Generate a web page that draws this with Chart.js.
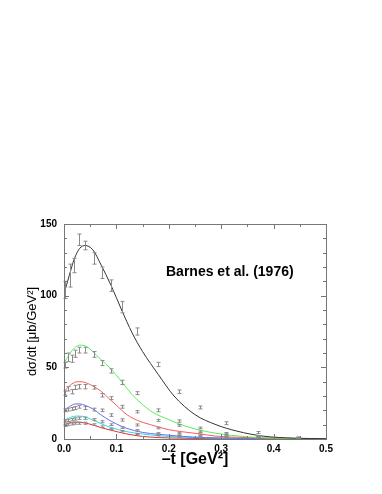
<!DOCTYPE html>
<html>
<head>
<meta charset="utf-8">
<script src="https://cdn.jsdelivr.net/npm/chart.js@4/dist/chart.umd.min.js"></script>
<style>
html, body { margin: 0; padding: 0; background: #fff; }
canvas { display: block; }
</style>
</head>
<body>
<canvas id="chart" width="382" height="494"></canvas>
<script>
// tick labels
const xTicks = [0, 0.1, 0.2, 0.3, 0.4, 0.5];
const yTicks = [0, 50, 100, 150];

// model curves
const curveBlackT = [0, 0.01, 0.02, 0.03, 0.04, 0.055, 0.07, 0.09, 0.11, 0.13, 0.15, 0.18, 0.21, 0.25, 0.29, 0.33, 0.38, 0.44, 0.5];
const curveBlackY = [101, 114, 126, 133, 135, 132, 122, 107, 90, 74, 61, 45, 30, 17, 10, 5.5, 2, 0.6, 0.2];
const curveGreenT = [0, 0.01, 0.02, 0.03, 0.04, 0.055, 0.07, 0.088, 0.11, 0.13, 0.15, 0.17, 0.2, 0.22, 0.25, 0.29, 0.35, 0.42, 0.5];
const curveGreenY = [53, 59, 63.5, 65.5, 65, 61, 55.5, 49.5, 40, 31, 24, 18.5, 13.5, 10.5, 7, 4, 1.5, 0.5, 0.1];
const curveRedT = [0, 0.01, 0.02, 0.03, 0.04, 0.055, 0.07, 0.088, 0.1, 0.12, 0.14, 0.165, 0.2, 0.227, 0.26, 0.29, 0.35, 0.42, 0.5];
const curveRedY = [33, 37, 39.5, 40, 39.5, 37, 33.5, 27.5, 23.5, 17, 13, 10, 6.5, 5, 3.5, 2, 1, 0.4, 0.1];
const curveBlueT = [0, 0.01, 0.021, 0.03, 0.04, 0.055, 0.07, 0.088, 0.1, 0.12, 0.15, 0.18, 0.22, 0.27, 0.33, 0.4, 0.5];
const curveBlueY = [19.7, 22.5, 24.4, 24.5, 23.5, 21, 17, 12.8, 10.5, 7.4, 4.6, 3.3, 2, 1, 0.5, 0.2, 0.05];
const curveCyanT = [0, 0.012, 0.024, 0.035, 0.055, 0.07, 0.088, 0.12, 0.15, 0.18, 0.22, 0.27, 0.33, 0.4, 0.5];
const curveCyanY = [12.8, 15, 16, 15.8, 13.3, 10.8, 8.2, 5.1, 3.5, 2.3, 1.4, 0.8, 0.4, 0.2, 0.05];
const curveDarkRedT = [0, 0.01, 0.02, 0.03, 0.04, 0.055, 0.07, 0.088, 0.12, 0.15, 0.18, 0.22, 0.27, 0.35, 0.5];
const curveDarkRedY = [10, 11.3, 11.8, 11.7, 11.2, 9.8, 8, 6.3, 3.5, 1.8, 1, 0.6, 0.3, 0.1, 0.02];

// measured points with errors
const dataBlackT = [0.002, 0.011, 0.019, 0.029, 0.04, 0.057, 0.072, 0.09, 0.11, 0.139, 0.18, 0.22, 0.26, 0.31, 0.37, 0.447];
const dataBlackY = [104, 114, 121, 139, 135, 126, 116, 107, 92, 75, 52, 33, 22, 11, 4.5, 1];
const dataBlackE = [6, 8, 5, 4, 3, 4, 4, 4, 4, 2.5, 1.5, 1.2, 1, 1, 0.7, 0.5];

const dataT = [0.002, 0.008, 0.015, 0.021, 0.029, 0.04, 0.057, 0.072, 0.09, 0.11, 0.139, 0.18, 0.22, 0.26, 0.31, 0.37, 0.447];
const dataGreenY = [51.5, 57, 56, 59.5, 62, 62, 59, 53, 47.5, 39.5, 32, 20, 12.5, 7.7, 4, 2, 0.7];
const dataGreenE = [2, 3, 2.5, 2.5, 2, 2, 2, 1.8, 1.5, 1.5, 1, 1, 0.8, 0.6, 0.5, 0.4, 0.3];
const dataRedY = [32, 35, 33, 36, 36.5, 36.5, 36, 30.5, 28.5, 22.5, 19, 13, 9.5, 5, 3, 1.5, 0.5];
const dataRedE = [1.5, 1.5, 1.5, 1.5, 1.5, 1.5, 1.2, 1.2, 1, 1, 0.8, 0.7, 0.6, 0.5, 0.4, 0.3, 0.3];
const dataBlueY = [20, 20.5, 21, 21.6, 22.5, 21.6, 20.5, 20, 16.7, 13.3, 9.8, 7.7, 4.2, 3, 1.8, 1, 0.5];
const dataBlueE = [1, 1, 1, 1, 1, 1, 1, 0.9, 0.9, 0.8, 0.7, 0.6, 0.5, 0.4, 0.3, 0.3, 0.2];
const dataCyanY = [12.5, 13, 13.5, 14, 14.5, 14.5, 13.5, 12, 10, 8, 6, 4, 2.6, 1.8, 1, 0.6, 0.3];
const dataCyanE = [0.8, 0.8, 0.8, 0.8, 0.8, 0.8, 0.7, 0.7, 0.6, 0.6, 0.5, 0.4, 0.3, 0.3, 0.2, 0.2, 0.2];
const dataDarkRedY = [9.5, 10, 10.5, 11, 11, 11, 10, 8.5, 7, 5.5, 3.5, 2.5, 1.5, 1, 0.6, 0.3, 0.2];
const dataDarkRedE = [0.7, 0.7, 0.7, 0.7, 0.7, 0.7, 0.6, 0.6, 0.5, 0.5, 0.4, 0.3, 0.3, 0.2, 0.2, 0.2, 0.1];

const FONT = '"Liberation Sans", Arial, Helvetica, sans-serif';

function pts(xs, ys) {
	return xs.map(function(x, i) { return { x: x, y: ys[i] }; });
}

function curve(xs, ys, color) {
	return {
		type: 'line',
		data: pts(xs, ys),
		borderColor: color,
		borderWidth: 1,
		pointRadius: 0,
		fill: false,
		cubicInterpolationMode: 'monotone'
	};
}

function measured(xs, ys, errs) {
	return {
		type: 'scatter',
		data: pts(xs, ys),
		errors: errs,
		pointRadius: 0,
		showLine: false
	};
}

// draws error bars with small caps
const errorBars = {
	id: 'errorBars',
	afterDatasetsDraw: function(chart) {
		const ctx = chart.ctx;
		const xs = chart.scales.x, ys = chart.scales.y;
		ctx.save();
		ctx.strokeStyle = '#8a8a8a';
		ctx.lineWidth = 1;
		chart.data.datasets.forEach(function(ds) {
			if (!ds.errors) return;
			ds.data.forEach(function(p, i) {
				const px = Math.round(xs.getPixelForValue(p.x)) + 0.5;
				const top = ys.getPixelForValue(p.y + ds.errors[i]);
				const bot = ys.getPixelForValue(Math.max(p.y - ds.errors[i], 0));
				ctx.beginPath();
				ctx.moveTo(px, top);
				ctx.lineTo(px, bot);
				ctx.moveTo(px - 2, top);
				ctx.lineTo(px + 2, top);
				ctx.moveTo(px - 2, bot);
				ctx.lineTo(px + 2, bot);
				ctx.stroke();
			});
		});
		ctx.restore();
	}
};

// frame, inward ticks and the label
const frame = {
	id: 'frame',
	afterDraw: function(chart) {
		const ctx = chart.ctx;
		const a = chart.chartArea;
		const xs = chart.scales.x, ys = chart.scales.y;
		ctx.save();
		ctx.strokeStyle = '#777';
		ctx.lineWidth = 1;
		ctx.strokeRect(a.left + 0.5, a.top + 0.5, a.right - a.left, a.bottom - a.top);
		ctx.beginPath();
		for (let v = 0; v <= 150.001; v += 10) {
			const y = Math.round(ys.getPixelForValue(v)) + 0.5;
			const len = (Math.round(v) % 50 === 0) ? 5 : 3;
			ctx.moveTo(a.left, y); ctx.lineTo(a.left + len, y);
			ctx.moveTo(a.right, y); ctx.lineTo(a.right - len, y);
		}
		for (let k = 0; k <= 10; k++) {
			const x = Math.round(xs.getPixelForValue(k * 0.05)) + 0.5;
			const len = (k % 2 === 0) ? 5 : 3;
			ctx.moveTo(x, a.bottom); ctx.lineTo(x, a.bottom - len);
			ctx.moveTo(x, a.top); ctx.lineTo(x, a.top + len);
		}
		ctx.stroke();
		ctx.fillStyle = '#000';
		ctx.font = 'bold 14px ' + FONT;
		ctx.textBaseline = 'middle';
		ctx.fillText('Barnes et al. (1976)', 166, 272);
		ctx.restore();
	}
};

const ctx = document.getElementById('chart').getContext('2d');
new Chart(ctx, {
	data: {
		datasets: [
			measured(dataBlackT, dataBlackY, dataBlackE),
			measured(dataT, dataGreenY, dataGreenE),
			measured(dataT, dataRedY, dataRedE),
			measured(dataT, dataBlueY, dataBlueE),
			measured(dataT, dataCyanY, dataCyanE),
			measured(dataT, dataDarkRedY, dataDarkRedE),
			curve(curveBlackT, curveBlackY, '#333333'),
			curve(curveGreenT, curveGreenY, '#55ee55'),
			curve(curveRedT, curveRedY, '#ff5a5a'),
			curve(curveBlueT, curveBlueY, '#6a6aff'),
			curve(curveCyanT, curveCyanY, '#22dddd'),
			curve(curveDarkRedT, curveDarkRedY, '#e03030')
		]
	},
	options: {
		responsive: false,
		animation: false,
		layout: { padding: { top: 224, right: 56, left: 0, bottom: 0 } },
		plugins: {
			legend: { display: false },
			tooltip: { enabled: false }
		},
		scales: {
			x: {
				type: 'linear',
				min: 0,
				max: 0.5,
				afterFit: function(scale) { scale.height = 55; },
				afterBuildTicks: function(scale) {
					scale.ticks = xTicks.map(function(v) { return { value: v }; });
				},
				grid: { display: false, drawTicks: false },
				border: { display: false },
				ticks: {
					padding: 4,
					color: '#000',
					font: { family: FONT, size: 10, weight: 'bold' },
					callback: function(v) { return Number(v).toFixed(1); }
				},
				title: {
					display: true,
					text: '\u2013t [GeV\u00b2]',
					color: '#000',
					font: { family: FONT, size: 16, weight: 'bold' },
					padding: { top: 0, bottom: 25 }
				}
			},
			y: {
				type: 'linear',
				min: 0,
				max: 150,
				afterFit: function(scale) { scale.width = 64; },
				afterBuildTicks: function(scale) {
					scale.ticks = yTicks.map(function(v) { return { value: v }; });
				},
				grid: { display: false, drawTicks: false },
				border: { display: false },
				ticks: {
					padding: 7,
					color: '#000',
					font: { family: FONT, size: 10, weight: 'bold' }
				},
				title: {
					display: true,
					text: 'd\u03c3/dt [\u03bcb/GeV\u00b2]',
					color: '#000',
					font: { family: FONT, size: 13 },
					padding: { top: 25, bottom: 0 }
				}
			}
		}
	},
	plugins: [errorBars, frame]
});
</script>
</body>
</html>
